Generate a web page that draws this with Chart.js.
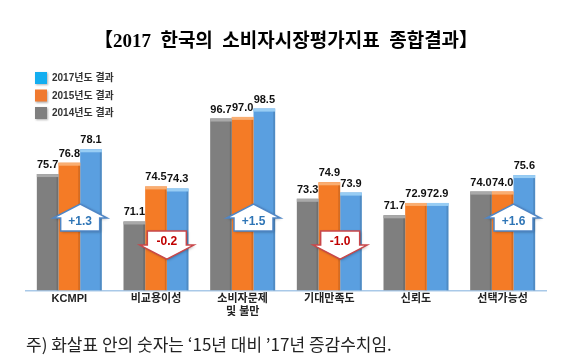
<!DOCTYPE html>
<html>
<head>
<meta charset="utf-8">
<script src="https://cdn.jsdelivr.net/npm/chart.js@4.4.0/dist/chart.umd.min.js"></script>
<style>
  html, body { margin: 0; padding: 0; background: #fff; }
</style>
</head>
<body>
<canvas id="grafico" width="570" height="363"></canvas>
<script>
// categorias e valores
const categorias = ['KCMPI', '비교용이성', ['소비자문제', '및 불만'], '기대만족도', '신뢰도', '선택가능성'];
const anos = ['2014년도 결과', '2015년도 결과', '2017년도 결과'];
const valores2014 = [75.7, 71.1, 96.7, 73.3, 71.7, 74.0];
const valores2015 = [76.8, 74.5, 97.0, 74.9, 72.9, 74.0];
const valores2017 = [78.1, 74.3, 98.5, 73.9, 72.9, 75.6];

const fonteLatina = "'Liberation Sans', 'Noto Sans CJK KR'";

// o eixo do original e comprimido acima de 80 -> escala por partes
const quebras = [[64.4, 0], [80, 0.718], [95, 0.726], [100, 0.849], [106.1, 1]];

function fracao(v) {
    if (v <= quebras[0][0]) return 0;
    for (let i = 1; i < quebras.length; i++) {
        if (v <= quebras[i][0]) {
            const a = quebras[i - 1], b = quebras[i];
            return a[1] + (v - a[0]) / (b[0] - a[0]) * (b[1] - a[1]);
        }
    }
    return 1;
}

class EscalaQuebrada extends Chart.LinearScale {
    getPixelForValue(v) {
        return this.bottom - fracao(v) * (this.bottom - this.top);
    }
    getValueForPixel(p) {
        const f = (this.bottom - p) / (this.bottom - this.top);
        for (let i = 1; i < quebras.length; i++) {
            if (f <= quebras[i][1]) {
                const a = quebras[i - 1], b = quebras[i];
                return a[0] + (f - a[1]) / (b[1] - a[1]) * (b[0] - a[0]);
            }
        }
        return quebras[quebras.length - 1][0];
    }
}
EscalaQuebrada.id = 'quebrada';
EscalaQuebrada.defaults = Chart.LinearScale.defaults;
Chart.register(EscalaQuebrada);

// setas com a variacao 2015 -> 2017
function desenhaSeta(c, cx, y0, sobe, texto) {
    const meio = 19.5, ombro = 27;
    const s = sobe ? -1 : 1;
    const corpo = sobe ? 13 : 14, ponta = sobe ? 27 : 28;
    c.save();
    c.beginPath();
    c.moveTo(cx - meio, y0);
    c.lineTo(cx - meio, y0 + s * corpo);
    c.lineTo(cx - ombro, y0 + s * corpo);
    c.lineTo(cx, y0 + s * ponta);
    c.lineTo(cx + ombro, y0 + s * corpo);
    c.lineTo(cx + meio, y0 + s * corpo);
    c.lineTo(cx + meio, y0);
    c.closePath();
    c.shadowColor = 'rgba(0,0,0,0.35)';
    c.shadowBlur = 3;
    c.shadowOffsetX = 1;
    c.shadowOffsetY = 1;
    c.fillStyle = '#ffffff';
    c.fill();
    c.shadowColor = 'transparent';
    c.lineWidth = 1.5;
    c.strokeStyle = sobe ? '#4f86c6' : '#c9474a';
    c.stroke();
    c.fillStyle = sobe ? '#2e75b6' : '#c00000';
    c.font = 'bold 12px ' + fonteLatina;
    c.textAlign = 'center';
    c.textBaseline = 'middle';
    c.fillText(texto, cx, sobe ? y0 - 9 : y0 + 10.5);
    c.restore();
}

const enfeites = {
    id: 'enfeites',
    afterDatasetsDraw(chart) {
        const c = chart.ctx;
        const area = chart.chartArea;
        chart.data.datasets.forEach((ds, i) => {
            const meta = chart.getDatasetMeta(i);
            meta.data.forEach((bar, j) => {
                const w = bar.width;
                c.fillStyle = ds.corTopo;
                c.fillRect(bar.x - w / 2, bar.y, w, 3);
                c.fillStyle = 'rgba(0,0,0,0.12)';
                c.fillRect(bar.x + w / 2 - 2, bar.y + 3, 2, bar.base - bar.y - 3);
                c.fillStyle = '#111';
                c.font = 'bold 11px ' + fonteLatina;
                c.textAlign = 'center';
                c.textBaseline = 'alphabetic';
                c.fillText(ds.data[j].toFixed(1), bar.x, bar.y - 6);
            });
        });

        const meta15 = chart.getDatasetMeta(1);
        const y0 = area.bottom - 59.5;
        valores2017.forEach((v, j) => {
            const d = Math.round((v - valores2015[j]) * 10) / 10;
            if (d === 0) return;
            const bar = meta15.data[j];
            const texto = (d > 0 ? '+' : '') + d.toFixed(1);
            desenhaSeta(c, bar.x + bar.width / 2, y0, d > 0, texto);
        });
    },
    afterDraw(chart) {
        // legenda vertical no canto
        const c = chart.ctx;
        const area = chart.chartArea;
        const lista = chart.data.datasets.slice().reverse();
        lista.forEach((ds, i) => {
            const x = area.left + 9;
            const y = area.top + 5.5 + i * 17.5;
            c.save();
            c.shadowColor = 'rgba(0,0,0,0.3)';
            c.shadowBlur = 2;
            c.shadowOffsetX = 1;
            c.shadowOffsetY = 1;
            c.fillStyle = ds.corLegenda;
            c.fillRect(x, y, 12, 12);
            c.restore();
            c.fillStyle = '#333';
            c.font = 'bold 10px ' + fonteLatina;
            c.textAlign = 'left';
            c.textBaseline = 'middle';
            c.fillText(ds.label, x + 17, y + 6.5);
        });
    }
};

var ctx = document.getElementById('grafico').getContext('2d');

var grafico = new Chart(ctx, {
    type: 'bar',
    data: {
        labels: categorias,
        datasets: [
            { label: anos[0], data: valores2014, backgroundColor: '#7f7f7f', corTopo: '#a9a9a9', corLegenda: '#7f7f7f' },
            { label: anos[1], data: valores2015, backgroundColor: '#f47b26', corTopo: '#f9ae72', corLegenda: '#f07a30' },
            { label: anos[2], data: valores2017, backgroundColor: '#5a9fe0', corTopo: '#98cdf4', corLegenda: '#14aef0' }
        ]
    },
    options: {
        responsive: false,
        animation: false,
        layout: { padding: { left: 26, right: 24, top: 0, bottom: 0 } },
        datasets: { bar: { barPercentage: 1, categoryPercentage: 0.75 } },
        scales: {
            x: {
                grid: { display: false, drawTicks: false },
                border: { color: '#a9c9e8', width: 1.5 },
                ticks: {
                    padding: 2,
                    color: '#222',
                    maxRotation: 0,
                    autoSkip: false,
                    font: { family: fonteLatina, size: 11, weight: 'bold' }
                }
            },
            y: { type: 'quebrada', display: false, min: 64.4, max: 106.1 }
        },
        plugins: {
            legend: { display: false },
            tooltip: { enabled: false },
            title: {
                display: true,
                text: '【2017  한국의  소비자시장평가지표  종합결과】',
                color: '#000',
                font: { family: "'Liberation Serif', 'Noto Sans CJK KR'", size: 19, weight: 'bold' },
                padding: { top: 31, bottom: 12.7 }
            },
            subtitle: {
                display: true,
                position: 'bottom',
                align: 'start',
                text: '주) 화살표 안의 숫자는 ‘15년 대비 ’17년 증감수치임.',
                color: '#222',
                font: { family: "'Noto Sans CJK KR'", size: 17 },
                padding: { top: 13.6, bottom: 8 }
            }
        }
    },
    plugins: [enfeites]
});
</script>
</body>
</html>
